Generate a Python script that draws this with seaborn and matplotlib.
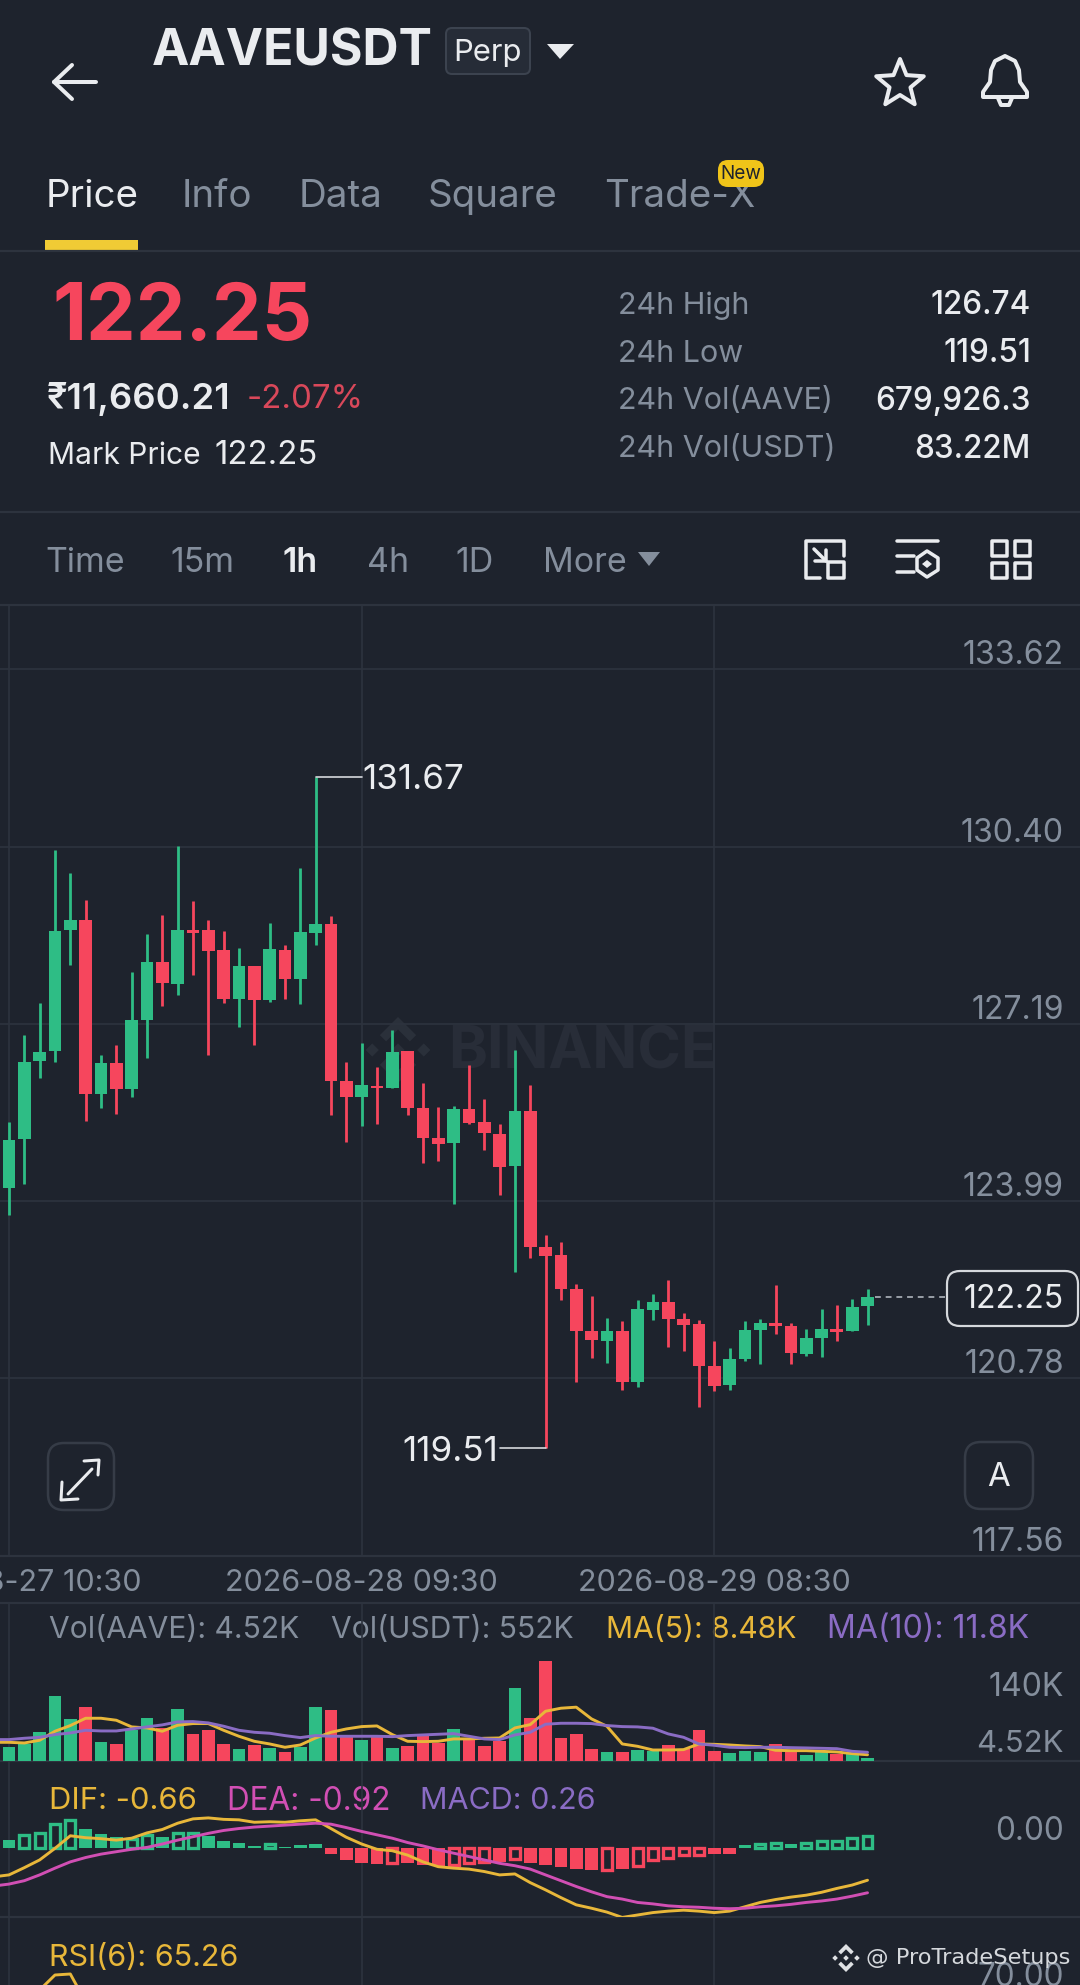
import numpy as np
import pandas as pd
import matplotlib
matplotlib.use('Agg')
import matplotlib.pyplot as plt
from matplotlib.patches import FancyBboxPatch, Polygon, Rectangle
from matplotlib.transforms import ScaledTranslation
import seaborn as sns

# candle data
opens = [124.22,125.11,126.52,126.70,128.89,129.07,125.93,126.48,126.01,127.27,128.31,127.92,128.90,128.89,128.53,127.65,128.25,127.62,128.54,128.00,128.84,129.01,126.16,125.87,126.07,126.03,126.70,125.68,125.13,125.03,125.66,125.42,125.21,124.62,125.62,123.16,123.01,122.40,121.64,121.46,121.63,120.71,122.02,122.16,121.86,121.76,121.00,120.65,121.12,121.66,121.77,121.73,121.22,121.51,121.67,121.63,122.08]
closes = [125.10,126.51,126.69,128.88,129.08,125.93,126.49,126.01,127.26,128.31,127.94,128.89,128.84,128.51,127.64,128.25,127.63,128.55,128.01,128.85,129.01,126.16,125.87,126.09,126.03,126.69,125.68,125.13,125.02,125.65,125.40,125.22,124.61,125.61,123.16,123.00,122.40,121.64,121.47,121.63,120.71,122.03,122.16,121.85,121.75,121.00,120.63,121.12,121.66,121.78,121.72,121.23,121.50,121.67,121.61,122.06,122.25]
highs = [125.42,126.99,127.58,130.34,129.93,129.44,126.63,126.82,128.13,128.83,129.16,130.41,129.42,129.08,128.87,128.57,128.25,129.02,128.63,130.02,131.67,129.15,126.51,126.85,126.42,127.09,126.70,126.12,125.69,125.71,126.45,125.84,125.38,126.73,126.08,123.37,123.25,122.49,122.27,121.87,121.81,122.19,122.31,122.56,121.96,121.83,121.46,121.33,121.82,121.86,122.46,121.78,121.67,122.03,122.10,122.21,122.40]
lows = [123.74,124.30,126.21,126.51,128.27,125.44,125.67,125.56,125.88,126.57,127.52,127.72,128.08,126.64,127.58,127.14,126.81,127.59,127.65,127.56,128.62,125.55,125.05,125.34,125.39,126.03,125.54,124.67,124.71,123.94,125.38,124.91,124.09,122.71,122.96,119.51,122.20,120.71,121.15,121.06,120.57,120.62,121.83,121.34,121.27,120.26,120.54,120.57,121.09,121.04,121.58,121.03,121.18,121.17,121.46,121.63,121.75]

# volume pane, in thousands
volumes = [19.5,23.5,39.4,87.4,56.6,72.9,25.3,23.1,42.5,58.4,44.8,70.6,37.1,41.6,23.5,15.8,21.7,18.1,12.7,18.6,72.9,68.8,32.6,28.5,32.6,17.2,20.8,34.4,24.4,43.4,29.0,20.8,27.2,99.1,58.8,134.9,31.2,37.1,16.7,12.7,12.7,14.5,13.1,22.2,16.7,42.5,13.1,10.9,13.1,11.8,23.1,13.1,8.6,12.2,9.1,9.5,4.52]
ma5 = [25.3,25.3,24.4,28.1,40.3,48.0,57.9,57.9,55.2,46.2,44.8,40.3,48.4,50.7,50.7,41.6,33.5,26.7,23.1,18.6,21.7,31.2,38.9,43.4,46.6,47.5,35.8,26.7,26.3,26.7,29.9,29.9,30.8,31.2,44.8,49.3,67.4,71.5,72.9,57.0,47.1,23.1,19.9,14.9,14.9,15.4,23.1,22.6,21.7,20.4,19.5,14.5,14.0,14.0,13.1,12.2,10.0,8.48]
ma10 = [29.0,29.0,30.8,32.1,35.8,38.0,41.6,40.7,40.7,43.4,46.2,48.9,53.0,53.4,51.6,47.1,41.6,38.9,37.6,34.4,31.7,34.4,33.5,33.5,33.5,33.5,33.0,34.4,35.3,36.2,37.1,33.5,29.9,29.0,35.3,38.9,49.8,51.1,51.1,50.7,48.0,46.6,46.2,44.4,36.7,32.1,23.1,21.3,18.6,18.1,18.6,18.6,18.1,17.7,17.2,16.7,13.1,11.8]

# macd pane
macd_hist = [.17,.28,.31,.50,.59,.39,.30,.23,.19,.28,.24,.31,.31,.26,.16,.12,.05,.08,.03,.07,.08,-.12,-.24,-.31,-.33,-.31,-.31,-.35,-.37,-.35,-.31,-.28,-.28,-.23,-.30,-.35,-.39,-.43,-.45,-.45,-.43,-.36,-.24,-.19,-.14,-.14,-.12,-.12,.07,.08,.12,.09,.12,.16,.16,.22,.26]
hollow = [1,2,3,4,8,9,11,12,17,25,29,30,31,33,39,41,42,43,44,45,49,50,52,53,54,55,56]
dif = [-.59,-.55,-.40,-.24,0,.26,.22,.20,.17,.21,.32,.39,.52,.61,.63,.60,.59,.54,.55,.54,.57,.59,.41,.23,.09,-.02,-.05,-.14,-.28,-.38,-.41,-.43,-.48,-.55,-.53,-.71,-.86,-1.02,-1.17,-1.24,-1.32,-1.43,-1.38,-1.33,-1.30,-1.28,-1.30,-1.33,-1.30,-1.21,-1.12,-1.06,-1.01,-.97,-.91,-.83,-.76,-.66]
dea = [-.78,-.74,-.67,-.55,-.41,-.28,-.19,-.12,-.07,-.02,.02,.09,.17,.24,.31,.37,.41,.44,.46,.48,.50,.52,.50,.43,.35,.28,.21,.12,.05,-.03,-.10,-.17,-.24,-.31,-.36,-.43,-.55,-.67,-.79,-.90,-1.00,-1.05,-1.12,-1.15,-1.19,-1.21,-1.22,-1.24,-1.25,-1.24,-1.21,-1.19,-1.16,-1.12,-1.09,-1.05,-.99,-.92]

# only the tip of the rsi line is on screen
rsi_idx = [2, 3, 4, 5]
rsi = [71, 78.5, 79, 65]

price_ticks = [133.62, 130.40, 127.19, 123.99, 120.78, 117.56]
date_idx = [0, 23, 46]
date_labels = ['2026-08-27 10:30', '2026-08-28 09:30', '2026-08-29 08:30']

BG = '#1e232d'
LINE = '#2d333e'
GREEN = '#2ebd85'
RED = '#f6465d'
GREY = '#848e9c'
WHITE = '#eaecef'
YELLOW = '#e8b73a'
PURPLE = '#8a6cc4'
PINK = '#d14fb4'
W, H = 1080, 1985
X0, X1 = -0.587, 69.86

sns.set_theme(style='dark', rc={'figure.facecolor': BG, 'axes.facecolor': 'none',
                                'savefig.facecolor': BG, 'axes.edgecolor': BG})
plt.rcParams['font.family'] = ['Inter', 'DejaVu Sans']

fig = plt.figure(figsize=(W / 100, H / 100), dpi=100)

def fs(px):
    return px * 0.72

# full size axes in pixels for the app chrome around the chart
ui = fig.add_axes([0, 0, 1, 1])
ui.set_xlim(0, W)
ui.set_ylim(H, 0)
ui.axis('off')

def label(x, y, s, size, color=WHITE, ha='left', weight='normal', **kw):
    ui.text(x, y + 3, s, fontsize=fs(size), color=color, ha=ha, va='center', fontweight=weight, **kw)

def poly(points, fill=None, edge=None, lw=3.0, closed=True, target=None):
    (target or ui).add_patch(Polygon(points, closed=closed, facecolor=fill if fill else 'none',
                                     edgecolor=edge if edge else 'none', linewidth=lw * 0.72,
                                     joinstyle='round', capstyle='round'))

def round_box(x0, y0, x1, y1, edge, lw=2.5, r=12, fill='none', z=1):
    ui.add_patch(FancyBboxPatch((x0 + r, y0 + r), x1 - x0 - 2 * r, y1 - y0 - 2 * r,
                                boxstyle=f'round,pad={r},rounding_size={r}',
                                facecolor=fill, edgecolor=edge, linewidth=lw * 0.72, zorder=z))

def binance_logo(cx, cy, r, color, target=None):
    a = r * 0.2
    for dx, dy in [(0, 0), (-r * 0.78, 0), (r * 0.78, 0)]:
        poly([(cx + dx, cy + dy - a), (cx + dx + a, cy + dy), (cx + dx, cy + dy + a), (cx + dx - a, cy + dy)],
             fill=color, lw=0, target=target)
    for s in (-1, 1):
        poly([(cx, cy + s * r), (cx + r * 0.55, cy + s * r * 0.45), (cx + r * 0.36, cy + s * r * 0.26),
              (cx, cy + s * r * 0.62), (cx - r * 0.36, cy + s * r * 0.26), (cx - r * 0.55, cy + s * r * 0.45)],
             fill=color, lw=0, target=target)

# header
poly([(96, 82), (54, 82)], edge=WHITE, lw=4, closed=False)
poly([(72, 65), (54, 82), (72, 99)], edge=WHITE, lw=4, closed=False)
label(152, 49, 'AAVEUSDT', 50, weight='bold')
round_box(446, 28, 530, 74, '#3c434f', lw=2, r=6, fill='#262c37')
label(488, 50, 'Perp', 31, ha='center')
poly([(547, 44), (574, 44), (560, 59)], fill=WHITE)
ang = np.linspace(-np.pi / 2, 1.5 * np.pi, 11)[:-1]
rad = np.array([25, 11] * 5)
poly(np.c_[900 + rad * np.cos(ang), 84 + rad * np.sin(ang)], edge=WHITE, lw=4)
bell = [(983, 92), (990, 82), (991, 70), (995, 61), (1005, 56), (1015, 61), (1019, 70), (1020, 82), (1027, 92), (1027, 97), (983, 97)]
poly(bell, edge=WHITE, lw=4)
poly([(998, 98), (1001, 105), (1009, 105), (1012, 98)], edge=WHITE, lw=4, closed=False)

# tabs
for tx, name, col in [(46, 'Price', WHITE), (182, 'Info', GREY), (299, 'Data', GREY), (428, 'Square', GREY), (604, 'Trade-X', GREY)]:
    label(tx, 194, name, 38.5, color=col)
round_box(718, 160, 764, 187, '#f0c419', lw=0, r=10, fill='#f0c419', z=4)
ui.text(741, 174, 'New', fontsize=fs(19), color='#1e232d', ha='center', va='center', zorder=5)
ui.add_patch(Rectangle((45, 240), 93, 10, color='#f0cb35', lw=0))
for yy in (251, 512, 605):
    ui.axhline(yy, color=LINE, lw=1.6)

# ticker block
label(52, 316, '122.25', 79, color=RED, weight='bold')
label(47, 396, '₹11,660.21', 36.5, weight='semibold')
label(247, 396, '-2.07%', 33, color='#d9485a')
label(48, 453, 'Mark Price', 30)
label(214, 453, '122.25', 33)
stats = [('24h High', '126.74'), ('24h Low', '119.51'), ('24h Vol(AAVE)', '679,926.3'), ('24h Vol(USDT)', '83.22M')]
for sy, (name, val) in zip([303, 351, 398, 446], stats):
    label(618, sy, name, 30.5, color=GREY)
    label(1031, sy, val, 31.5, ha='right', weight='medium')

# interval row
for tx, name, col, wt in [(45, 'Time', GREY, 'normal'), (170, '15m', GREY, 'normal'), (283, '1h', WHITE, 'semibold'),
                          (367, '4h', GREY, 'normal'), (455, '1D', GREY, 'normal'), (543, 'More', GREY, 'normal')]:
    label(tx, 560, name, 34, color=col, weight=wt)
poly([(638, 552), (660, 552), (649, 566)], fill=GREY)
poly([(844, 556), (844, 541), (806, 541), (806, 578), (820, 578)], edge=WHITE, lw=3.5, closed=False)
poly([(828, 562), (844, 562), (844, 578), (828, 578)], edge=WHITE, lw=3.5)
poly([(814, 549), (826, 561)], edge=WHITE, lw=3.5, closed=False)
poly([(815, 561), (826, 561), (826, 550)], edge=WHITE, lw=3.5, closed=False)
poly([(897, 541), (938, 541)], edge=WHITE, lw=3.5, closed=False)
poly([(897, 556), (914, 556)], edge=WHITE, lw=3.5, closed=False)
poly([(897, 572), (914, 572)], edge=WHITE, lw=3.5, closed=False)
poly([(927, 551), (938, 558), (938, 570), (927, 577), (917, 570), (917, 558)], edge=WHITE, lw=3.5)
poly([(927, 560), (932, 564), (927, 568), (922, 564)], fill=WHITE)
for bx in (992, 1015):
    for by in (541, 563):
        poly([(bx, by), (bx + 15, by), (bx + 15, by + 15), (bx, by + 15)], edge=WHITE, lw=3.5)

# faint watermark behind the candles
binance_logo(398, 1050, 33, '#2a303a')
ui.text(582, 1053, 'BINANCE', fontsize=fs(59), color='#282d38', ha='center', va='center', fontweight='bold')

for yy in (1556, 1603, 1761, 1917):
    ui.axhline(yy, color=LINE, lw=1.6)

def pane(top, bottom):
    ax = fig.add_axes([0, 1 - bottom / H, 1, (bottom - top) / H])
    ax.set_xlim(X0, X1)
    for sp in ax.spines.values():
        sp.set_visible(False)
    return ax

def finish_grid(ax):
    ax.set_xlim(X0, X1)
    ax.set_xticks(date_idx)
    ax.set_xticklabels([])
    ax.set_yticks([])
    ax.set_xlabel('')
    ax.set_ylabel('')
    ax.tick_params(length=0)
    ax.grid(True, axis='x', color=LINE, lw=1.2)
    ax.set_axisbelow(True)

idx = np.arange(len(closes))
line_x = np.arange(-1, len(closes))
up = np.array(closes) >= np.array(opens)
colors = np.where(up, GREEN, RED)

# price pane
ax = pane(605, 1556)
ax.set_ylim(117.61, 134.78)
ax.vlines(idx, lows, highs, colors=colors, lw=2.0)
ax.bar(idx, np.abs(np.array(closes) - np.array(opens)), bottom=np.minimum(opens, closes), width=0.83,
       color=colors, linewidth=0)
ax.set_xticks(date_idx)
ax.set_xticklabels(date_labels, color=GREY, fontsize=fs(30.5))
ax.set_yticks(price_ticks)
ax.set_yticklabels([f'{t:.2f}' for t in price_ticks], color=GREY, fontsize=fs(32))
ax.yaxis.tick_right()
ax.tick_params(axis='x', length=0, pad=fs(13))
ax.tick_params(axis='y', length=0, pad=-fs(16))
shift = ScaledTranslation(0, 17 / 100, fig.dpi_scale_trans)
for t in ax.get_yticklabels():
    t.set_ha('right')
    t.set_transform(t.get_transform() + shift)
ax.grid(True, color=LINE, lw=1.2)
ax.set_axisbelow(True)

# high and low markers
hi = int(np.argmax(highs))
lo = int(np.argmin(lows))
ax.plot([hi, hi + 3], [highs[hi], highs[hi]], color='#d5d8dc', lw=1.2)
ax.annotate(f'{highs[hi]:.2f}', (hi + 3.05, highs[hi]), xytext=(0, -3.5), textcoords='offset pixels',
            color=WHITE, fontsize=fs(35), va='center')
ax.plot([lo - 3, lo], [lows[lo], lows[lo]], color='#d5d8dc', lw=1.2)
ax.annotate(f'{lows[lo]:.2f}', (lo - 3.1, lows[lo]), xytext=(0, -3.5), textcoords='offset pixels',
            color=WHITE, fontsize=fs(35), va='center', ha='right')

# last price tag
ax.plot([56.5, 61.1], [closes[-1], closes[-1]], color='#9aa0a8', lw=1.4, ls=(0, (3, 2.5)))
round_box(947, 1271, 1078, 1326, '#d5d8dc', lw=2.2, r=13, fill=BG)
label(1064, 1296, f'{closes[-1]:.2f}', 32, ha='right')

# chart buttons
round_box(48, 1443, 114, 1510, '#363c47', lw=2.5, r=16)
poly([(68, 1494), (92, 1469)], edge=WHITE, lw=3, closed=False)
poly([(84, 1461), (99, 1460), (98, 1475)], edge=WHITE, lw=3, closed=False)
poly([(62, 1482), (61, 1500), (78, 1499)], edge=WHITE, lw=3, closed=False)
round_box(965, 1442, 1033, 1509, '#363c47', lw=2.5, r=16)
label(999, 1475, 'A', 33, ha='center')

# volume pane
label(49, 1627, 'Vol(AAVE): 4.52K', 30, color=GREY)
label(331, 1627, 'Vol(USDT): 552K', 30, color=GREY)
label(606, 1627, 'MA(5): 8.48K', 30, color=YELLOW)
label(827, 1627, 'MA(10): 11.8K', 32, color=PURPLE)
label(1064, 1685, '140K', 32, color=GREY, ha='right')
label(1064, 1741, '4.52K', 31, color=GREY, ha='right')

vol_df = pd.DataFrame({'idx': idx, 'vol': volumes, 'dir': np.where(up, 'up', 'down')})
ax = pane(1603, 1761)
ax.set_ylim(0, 214)
sns.barplot(data=vol_df, x='idx', y='vol', hue='dir', palette={'up': GREEN, 'down': RED}, native_scale=True,
            dodge=False, width=0.83, saturation=1, legend=False, linewidth=0, ax=ax)
sns.lineplot(x=line_x, y=ma5, color=YELLOW, lw=2.1, ax=ax)
sns.lineplot(x=line_x, y=ma10, color=PURPLE, lw=2.1, ax=ax)
ax.set_ylim(0, 214)
finish_grid(ax)

# macd pane
label(49, 1798, 'DIF: -0.66', 31, color=YELLOW)
label(227, 1798, 'DEA: -0.92', 31.5, color=PINK)
label(420, 1798, 'MACD: 0.26', 30.5, color=PURPLE)
label(1064, 1829, '0.00', 31.5, color=GREY, ha='right')

macd_df = pd.DataFrame({'idx': idx, 'hist': macd_hist})
macd_df['dir'] = np.where(macd_df['hist'] >= 0, 'up', 'down')
macd_df['hollow'] = macd_df['idx'].isin(hollow)
ax = pane(1761, 1917)
solid = macd_df[~macd_df['hollow']]
sns.barplot(data=solid, x='idx', y='hist', hue='dir', palette={'up': GREEN, 'down': RED}, native_scale=True,
            dodge=False, width=0.83, saturation=1, legend=False, linewidth=0, ax=ax)
empty = macd_df[macd_df['hollow']]
ax.bar(empty['idx'], empty['hist'], width=0.65, facecolor='none', lw=2.4,
       edgecolor=[GREEN if v >= 0 else RED for v in empty['hist']])
sns.lineplot(x=line_x, y=dif, color=YELLOW, lw=2.1, ax=ax)
sns.lineplot(x=line_x, y=dea, color=PINK, lw=2.1, ax=ax)
ax.set_ylim(-1.4215, 1.808)
finish_grid(ax)

# rsi pane, cut off by the bottom of the screenshot
label(49, 1955, 'RSI(6): 65.26', 30.5, color=YELLOW)
label(1064, 1975, '70.00', 31.5, color=GREY, ha='right')
ax = pane(1917, 1985)
sns.lineplot(x=rsi_idx, y=rsi, color=YELLOW, lw=2.1, ax=ax)
ax.set_ylim(73.5, 107.5)
finish_grid(ax)

# reposter's watermark on top of everything
over = fig.add_axes([0, 0, 1, 1], facecolor='none')
over.set_xlim(0, W)
over.set_ylim(H, 0)
over.axis('off')
binance_logo(846, 1958, 14, '#dfe1e4', target=over)
over.text(866, 1958, '@ ProTradeSetups', color='#d5d8dc', fontsize=fs(22.5), va='center', family='DejaVu Sans')

fig.savefig('out.png', dpi=100)
